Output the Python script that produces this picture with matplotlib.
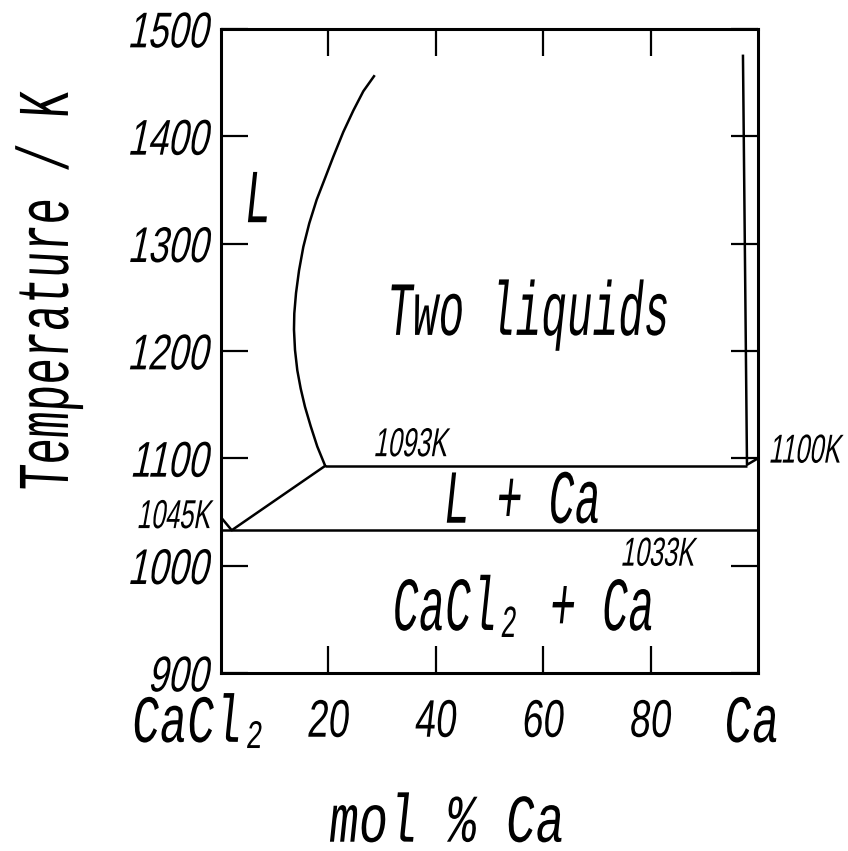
import matplotlib
matplotlib.use('Agg')
import matplotlib.pyplot as plt
import matplotlib.patheffects as pe
from matplotlib.transforms import Affine2D

# CaCl2 - Ca phase diagram, temperature vs composition
# liquid miscibility gap, CaCl2-rich branch
liq_x = [28.49, 26.50, 24.64, 22.77, 20.91, 19.37, 17.82, 16.44, 15.33, 14.53,
         13.97, 13.65, 13.59, 13.78, 14.21, 14.84, 15.64, 16.70, 17.93, 19.4]
liq_T = [1456, 1442, 1424, 1404, 1381, 1361, 1341, 1319, 1297, 1275,
         1254, 1235, 1220, 1201, 1182, 1165, 1148, 1130, 1111, 1093]
# liquidus from pure CaCl2 down to the eutectic, then up to the monotectic
eut_x = [0, 2.0, 19.4]
eut_T = [1045, 1033, 1093]
# Ca-rich branch of the gap
ca_x = [97.2, 97.95, 100]
ca_T = [1475, 1094, 1100]

T_eut = 1033
T_mono = 1093
mono_x = [19.4, 97.95]

x_ticks = [20, 40, 60, 80]
y_ticks = [900, 1000, 1100, 1200, 1300, 1400, 1500]

MONO = ['Liberation Mono', 'DejaVu Sans Mono']
NUM = ['Liberation Sans', 'DejaVu Sans']


class Stretch(pe.AbstractPathEffect):
    """Draw text taller (narrow lettering) and slanted."""

    def __init__(self, sy, slant=0, about='baseline'):
        super().__init__()
        self.sy = sy
        self.slant = slant
        self.about = about

    def draw_path(self, renderer, gc, tpath, affine, rgbFace=None):
        ext = tpath.get_extents()
        y0 = {'baseline': 0.0, 'middle': 0.5 * (ext.y0 + ext.y1),
              'top': ext.y1}[self.about]
        t = (Affine2D().translate(0, -y0).scale(1, self.sy).translate(0, y0)
             .skew_deg(self.slant, 0))
        renderer.draw_path(gc, tpath, t + affine, rgbFace)


fig = plt.figure(figsize=(8.48, 8.51), dpi=100)
ax = fig.add_axes([221 / 848, 1 - 673 / 851, 537 / 848, 644 / 851])
ax.set_xlim(0, 100)
ax.set_ylim(900, 1500)

lw = 1.8
ax.plot(liq_x, liq_T, color='k', lw=lw)
ax.plot(eut_x, eut_T, color='k', lw=lw)
ax.plot(ca_x, ca_T, color='k', lw=lw)
ax.hlines(T_eut, 0, 100, color='k', lw=lw)
ax.hlines(T_mono, mono_x[0], mono_x[1], color='k', lw=lw)

for s in ax.spines.values():
    s.set_linewidth(2.2)

ax.tick_params(direction='in', length=19.5, width=1.6, top=True, right=True)
ax.tick_params(axis='y', pad=9)
ax.tick_params(axis='x', pad=18)

ax.set_xticks(x_ticks)
ax.set_xticklabels([str(v) for v in x_ticks], family=NUM, fontsize=27)
for lbl in ax.get_xticklabels():
    lbl.set_path_effects([Stretch(1.41, 6, 'top')])

ax.set_yticks(y_ticks)
ax.set_yticklabels([str(v) for v in y_ticks], family=NUM, fontsize=26)
for lbl in ax.get_yticklabels():
    lbl.set_path_effects([Stretch(1.39, 12, 'middle')])

# end members under the axis
xt = ax.get_xaxis_transform()
for x, s in [(-4.1, 'CaCl₂'), (98.5, 'Ca')]:
    ax.text(x, -0.107, s, transform=xt, ha='center', va='baseline',
            family=MONO, fontsize=33, clip_on=False,
            path_effects=[Stretch(1.47, 6)])

ax.set_xlabel('mol % Ca', family=MONO, fontsize=35.3, va='baseline',
              path_effects=[Stretch(1.39, 6)])
ax.xaxis.set_label_coords(0.417, -0.262)
ax.set_ylabel('Temperature / K', family=MONO, fontsize=32, va='baseline',
              path_effects=[Stretch(1.64, 3)])
ax.yaxis.set_label_coords(-0.285, 0.592)


def label(x, y, s, size, sy, slant, family=MONO):
    ax.text(x, y, s, ha='center', va='baseline', family=family,
            fontsize=size, clip_on=False,
            path_effects=[Stretch(sy, slant)])


# phase fields
label(6.5, 1320, 'L', 31.4, 1.75, 6)
label(56.8, 1215, 'Two liquids', 30.8, 1.79, 6)
label(55.7, 1040, 'L + Ca', 31.4, 1.75, 6)
label(55.9, 940, 'CaCl₂ + Ca', 31.4, 1.75, 6)

# invariant temperatures
label(35.2, 1102, '1093K', 18.3, 1.59, 10, NUM)
label(108.6, 1096, '1100K', 18.3, 1.59, 10, NUM)
label(-8.9, 1035, '1045K', 18.3, 1.59, 10, NUM)
label(81.2, 1000, '1033K', 18.3, 1.59, 10, NUM)

fig.savefig('out.png', dpi=100)
